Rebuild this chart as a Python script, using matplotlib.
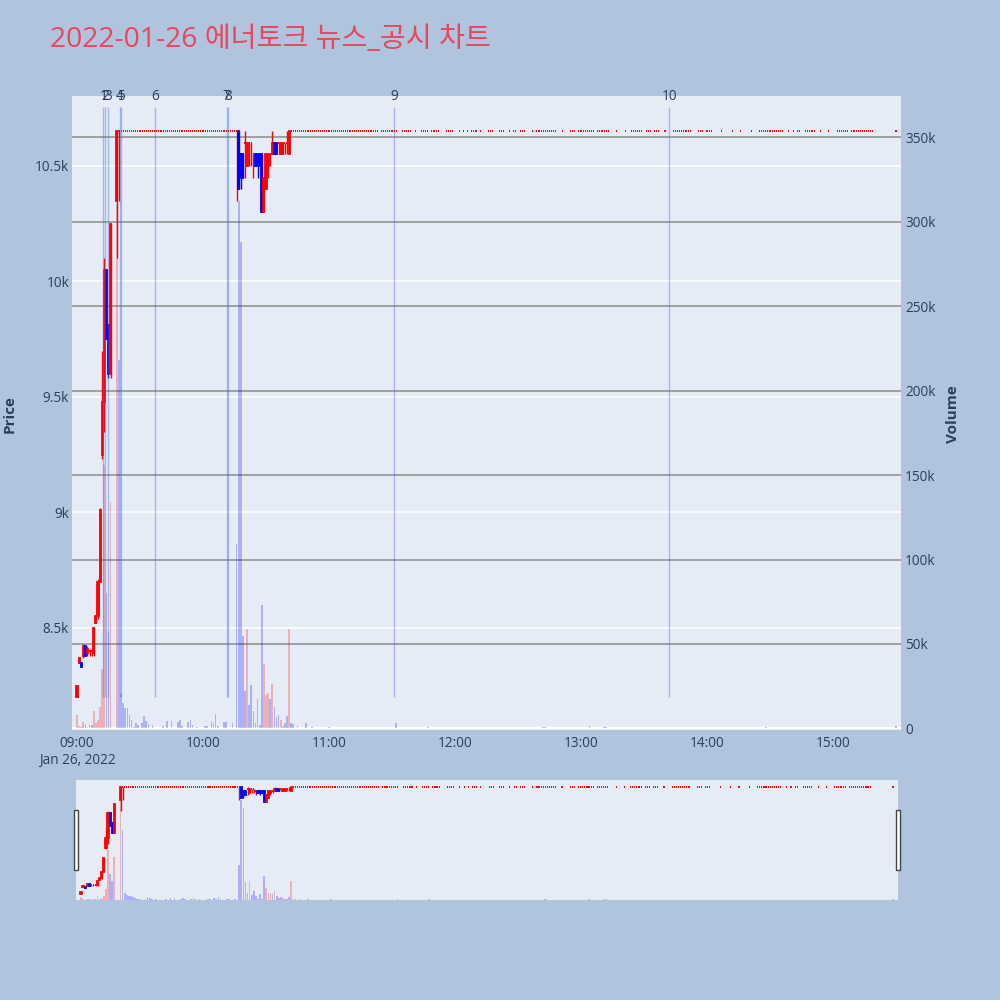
import matplotlib
matplotlib.use("Agg")
import matplotlib.pyplot as plt
from matplotlib.patches import Rectangle
from matplotlib.transforms import blended_transform_factory

# ---------------- data (minutes after 09:00, prices in KRW, volume in thousand shares) ----------------
chart_title = "2022-01-26 에너토크 뉴스_공시 차트"
x_tick_minutes = [0, 60, 120, 180, 240, 300, 360]
x_tick_labels = ["09:00\nJan 26, 2022", "10:00", "11:00", "12:00", "13:00", "14:00", "15:00"]
price_ticks = [8500, 9000, 9500, 10000, 10500]
price_tick_labels = ["8.5k", "9k", "9.5k", "10k", "10.5k"]
volume_ticks = [0, 50000, 100000, 150000, 200000, 250000, 300000, 350000]
volume_tick_labels = ["0", "50k", "100k", "150k", "200k", "250k", "300k", "350k"]

# opening run-up
open_minutes = [0, 1, 2, 3, 4, 5, 6, 7, 8, 9, 10, 11, 12, 13, 14, 15, 16, 19, 20]
open_o = [8200, 8350, 8350, 8380, 8420, 8390, 8400, 8400, 8390, 8520, 8550, 8700, 9250, 9480, 10050, 9810, 9600, 10350, 10650]
open_h = [8250, 8370, 8350, 8430, 8420, 8420, 8410, 8410, 8500, 8550, 8710, 9020, 9700, 10100, 10050, 9810, 10250, 10650, 10650]
open_l = [8200, 8350, 8330, 8370, 8380, 8380, 8380, 8380, 8380, 8520, 8540, 8700, 9230, 9350, 9750, 9580, 9580, 10100, 10350]
open_c = [8250, 8370, 8330, 8420, 8380, 8410, 8400, 8400, 8500, 8550, 8700, 9010, 9480, 10050, 9750, 9600, 10250, 10650, 10650]
open_v = [7.7, 1.4, 0.6, 3.7, 2.4, 0.8, 1.8, 1.8, 10.6, 3.0, 5.3, 12.6, 35, 156, 80, 57, 134, 310, 218]

# limit-up break and recovery (10:16 - 10:41)
reb_minutes = [76, 77, 78, 79, 80, 81, 82, 83, 84, 85, 86, 87, 88, 89, 90, 91, 92, 93, 94, 95, 96, 97, 98, 99, 100, 101]
reb_o = [10650, 10650, 10550, 10550, 10600, 10500, 10600, 10600, 10550, 10550, 10550, 10550, 10550, 10300, 10400, 10500, 10550, 10550, 10600, 10600, 10600, 10550, 10550, 10600, 10600, 10550]
reb_h = [10650, 10650, 10550, 10550, 10650, 10600, 10600, 10600, 10550, 10550, 10550, 10550, 10550, 10450, 10550, 10550, 10550, 10650, 10600, 10600, 10600, 10600, 10600, 10600, 10650, 10650]
reb_l = [10350, 10400, 10400, 10450, 10450, 10500, 10500, 10500, 10450, 10500, 10450, 10500, 10300, 10300, 10400, 10450, 10500, 10550, 10550, 10550, 10550, 10550, 10550, 10550, 10550, 10550]
reb_c = [10650, 10400, 10450, 10450, 10600, 10600, 10600, 10600, 10550, 10500, 10500, 10500, 10300, 10450, 10550, 10550, 10550, 10600, 10550, 10550, 10600, 10600, 10600, 10600, 10600, 10650]
reb_v = [109, 312, 288, 55, 22, 58.6, 14, 25.7, 10.6, 3.5, 17.6, 1.8, 73, 38, 19.8, 21, 17.6, 26.5, 13, 6.9, 8.2, 4.8, 1.5, 3.0, 7.6, 59]

# trades at the upper limit price: (first minute, volumes of consecutive minutes)
limit_price = 10650
limit_spans = [
    (21, [20.6, 15, 12.4, 12, 8.2, 5.3, 1.0, 3.0, 1.8, 0.5, 3.0, 7.6, 4.7, 2.5, 0.5, 1.8, 0.3, 0.3, 0.3, 0.3,
          1.5, 0.3, 4.5, 0.3, 4.5, 0.3, 0.3, 3.7, 5.3, 1.5, 0.3, 0.3, 3.7, 4.8, 2.2, 0.3, 0.8, 0.3, 0.5, 0.3,
          1.5, 1.5, 0.3, 4.5, 3.0, 8.8, 1.5, 0.3, 0.3, 3.7, 3.7, 0.3, 0.3, 3.0, 0.3]),
    (102, [3.0, 2.5, 0.3, 1.5, 0.3, 0.5, 0.3, 3.5, 0.4, 0.3, 0.6, 0.2, 0.3, 0.4, 0.2, 0.5, 0.3, 0.2, 0.8, 0.3,
           0.2, 0.4, 0.3, 0.2, 0.5, 0.3, 0.2, 0.3, 0.4, 0.2, 0.3, 0.2, 0.5, 0.2, 0.3, 0.2, 0.4, 0.2, 0.3, 0.2,
           0.3, 0.2]),
    (145, [0.3, 0.2, 0.4, 0.2, 0.3, 0.2, 0.5, 3.5]),
    (155, [0.3, 0.2, 0.4, 0.2, 0.3]),
    (161, [0.2]),
    (164, [0.3, 0.2, 0.2, 1.0]),
    (169, [0.2, 0.3, 0.2, 0.3]),
    (176, [0.3, 0.2, 0.4, 0.2]),
    (182, [0.2]),
    (184, [0.3]),
    (186, [0.2]),
    (188, [0.3, 0.2, 0.2]),
    (192, [0.3]),
    (196, [0.2, 0.3, 0.2]),
    (201, [0.3, 0.2, 0.2]),
    (206, [0.2]),
    (208, [0.3, 0.2]),
    (211, [0.2, 0.3, 0.2]),
    (217, [0.2]),
    (219, [0.3, 0.2, 0.2, 0.6, 0.8, 0.4, 0.2, 0.3, 0.2, 0.2]),
    (231, [0.2]),
    (235, [0.3, 0.2, 0.2]),
    (239, [0.2, 0.3, 0.2, 0.3, 0.2, 1.5, 0.3, 0.2]),
    (248, [0.3, 0.2, 0.3, 1.0, 1.0, 0.3]),
    (257, [0.2]),
    (261, [0.2]),
    (264, [0.3, 0.2, 0.2, 0.3, 0.2, 0.2]),
    (271, [0.2, 0.3, 0.2]),
    (275, [0.2, 0.2, 0.3]),
    (280, [0.2]),
    (284, [0.3, 0.2, 0.2, 0.3, 0.2, 0.2, 0.3, 0.2, 0.2]),
    (296, [0.2, 0.3, 0.2]),
    (300, [0.2, 0.2, 0.3]),
    (307, [0.2]),
    (312, [0.2]),
    (316, [0.2]),
    (321, [0.2]),
    (325, [0.2, 0.3, 0.2, 0.6, 0.2, 0.2, 0.3, 0.2, 0.2, 0.3, 0.2, 0.2]),
    (339, [0.2]),
    (341, [0.2]),
    (343, [0.2, 0.2]),
    (347, [0.3, 0.2, 0.2, 0.2]),
    (351, [0.2]),
    (354, [0.2]),
    (358, [0.2]),
    (362, [0.2, 0.3, 0.2, 0.2, 0.3, 0.2]),
    (369, [0.3, 0.2, 0.2, 0.3, 0.2, 0.2, 0.3, 0.2, 0.2, 0.3, 0.2]),
    (390, [1.2]),
]

# news / disclosure times
news_times = ["09:12:30", "09:13:30", "09:14:54", "09:20:30", "09:21:06",
              "09:37:18", "10:11:18", "10:11:48", "11:31:00", "13:42:00"]
news_labels = ["1", "2", "3", "4", "5", "6", "7", "8", "9", "10"]

# ---------------- assemble ----------------
rows = []
for m, o, h, l, c, v in zip(open_minutes, open_o, open_h, open_l, open_c, open_v):
    rows.append((m, o, h, l, c, v))
for m, o, h, l, c, v in zip(reb_minutes, reb_o, reb_h, reb_l, reb_c, reb_v):
    rows.append((m, o, h, l, c, v))
for start, vols in limit_spans:
    for k, v in enumerate(vols):
        rows.append((start + k, limit_price, limit_price, limit_price, limit_price, v))
rows.sort(key=lambda r: r[0])
X = [r[0] for r in rows]
O = [r[1] for r in rows]
H = [r[2] for r in rows]
L = [r[3] for r in rows]
C = [r[4] for r in rows]
V = [r[5] * 1000 for r in rows]

RED, BLUE = "#FF0000", "#0000FF"
candle_col = [RED if c >= o else BLUE for o, c in zip(O, C)]
vol_col = [RED if c > o else BLUE for o, c in zip(O, C)]


def to_min(t):
    hh, mm, ss = [int(p) for p in t.split(":")]
    return (hh - 9) * 60 + mm + ss / 60.0


news_x = [to_min(t) for t in news_times]

X_LO, X_HI = -2.38, 392.38
P_LO, P_HI = 8058, 10803
V_LO, V_HI = -900, 374300

plt.rcParams['font.family'] = ['Open Sans', 'Noto Sans CJK KR', 'DejaVu Sans']
TXT = "#2a3f5f"
TICK_FS = 9.8

W = Hh = 1000
fig = plt.figure(figsize=(10, 10), dpi=100)
fig.patch.set_facecolor("#B0C4DE")


def rect(x0, y0, x1, y1):
    return [x0 / W, 1 - y1 / Hh, (x1 - x0) / W, (y1 - y0) / Hh]


def draw_panel(r):
    ax_v = fig.add_axes(r)
    ax_p = fig.add_axes(r)
    ax_v.set_facecolor("#E5ECF6")
    ax_p.patch.set_alpha(0)
    for a in (ax_v, ax_p):
        for s in a.spines.values():
            s.set_visible(False)
        a.set_xlim(X_LO, X_HI)
    ax_v.set_ylim(V_LO, V_HI)
    ax_p.set_ylim(P_LO, P_HI)
    ax_v.bar(X, V, width=0.8, color=vol_col, alpha=0.25, linewidth=0, zorder=2)
    ax_p.vlines(X, L, H, colors=candle_col, lw=1.0, zorder=3)
    bx, bh, bb, bc = [], [], [], []
    dx, dy, dc = [], [], []
    for x, o, c, col in zip(X, O, C, candle_col):
        if c != o:
            bx.append(x); bh.append(abs(c - o)); bb.append(min(o, c)); bc.append(col)
        else:
            dx.append(x); dy.append(o); dc.append(col)
    ax_p.bar(bx, bh, bottom=bb, width=0.55, color=bc, edgecolor=bc, linewidth=1.3, zorder=4)
    ax_p.hlines(dy, [x - 0.27 for x in dx], [x + 0.27 for x in dx], colors=dc, lw=1.4,
                capstyle='butt', zorder=4)
    return ax_v, ax_p


# main panel
ax_v, ax_p = draw_panel(rect(72, 96, 901, 730))
ax_v.set_yticks(volume_ticks)
ax_v.set_yticklabels(volume_tick_labels)
ax_v.yaxis.tick_right()
ax_v.set_xticks([])
ax_v.grid(axis='y', color="#8c8c8c", lw=1.1)
ax_v.set_axisbelow(True)
ax_v.axhline(0, color="white", lw=1.6, zorder=1)
ax_v.tick_params(axis='y', length=0, pad=3, labelsize=TICK_FS, labelcolor=TXT)
trans = blended_transform_factory(ax_v.transAxes, ax_p.transData)
for p in price_ticks:
    ax_v.plot([0, 1], [p, p], transform=trans, color="white", lw=1.1, zorder=0.8)

ax_p.set_yticks(price_ticks)
ax_p.set_yticklabels(price_tick_labels)
ax_p.set_xticks(x_tick_minutes)
ax_p.set_xticklabels(x_tick_labels, linespacing=1.25)
ax_p.tick_params(axis='both', length=0, labelsize=TICK_FS, labelcolor=TXT)
ax_p.tick_params(axis='y', pad=2)
ax_p.tick_params(axis='x', pad=4)

# news lines (labels overlap where news items are close in time, as in the source chart)
y_lo = min(L)
y_hi = max(H) * 1.01
ax_p.vlines(news_x, y_lo, y_hi, colors="royalblue", alpha=0.4, lw=1.0, zorder=6)
ttrans = blended_transform_factory(ax_p.transData, ax_p.transAxes)
for x, lab in zip(news_x, news_labels):
    ax_p.text(x, 1.0, lab, transform=ttrans, ha='center', va='center', fontsize=TICK_FS,
              color=TXT, zorder=7)

# range slider
rs_v, rs_p = draw_panel(rect(76, 780, 898, 900))
for a in (rs_v, rs_p):
    a.set_xticks([])
    a.set_yticks([])
for hx in (73.5, 896):
    fig.add_artist(Rectangle((hx / W, 1 - 870 / Hh), 4 / W, 60 / Hh, transform=fig.transFigure,
                             facecolor="white", edgecolor="#444444", lw=1.0, zorder=10))

# texts
fig.text(50 / W, 1 - 40 / Hh, chart_title, ha='left', va='center', fontsize=20.3, color="#E8475F")
fig.text(10 / W, 1 - 414 / Hh, "Price", rotation=90, ha='center', va='center', fontsize=11,
         fontweight='bold', color=TXT)
fig.text(953 / W, 1 - 414 / Hh, "Volume", rotation=90, ha='center', va='center', fontsize=11,
         fontweight='bold', color=TXT)

fig.savefig("out.png", dpi=100, facecolor=fig.get_facecolor())
